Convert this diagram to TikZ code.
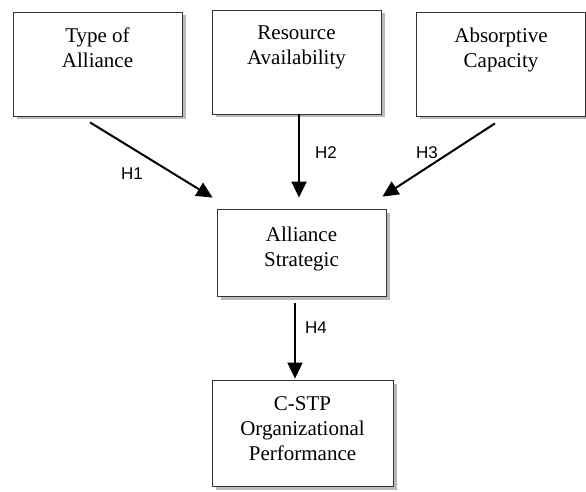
\documentclass[tikz,border=0pt]{standalone}
\usepackage{fontspec}
\setmainfont{Liberation Serif}
\newfontfamily\hfont{Liberation Sans}
\usetikzlibrary{calc,shadows,arrows.meta}
\tikzset{
	box/.style={draw=black!80, line width=0.8pt, fill=white, inner sep=0pt, minimum width=169pt, minimum height=104pt, drop shadow={shadow xshift=3.5pt, shadow yshift=-3.5pt, fill=black!50, opacity=0.55}},
	boxtext/.style={anchor=north, align=center, inner sep=0pt, font=\fontsize{21}{25}\selectfont},
	hyp/.style={line width=2pt, -{Triangle[length=16pt,width=15pt]}},
	hlab/.style={font=\hfont\fontsize{17}{19}\selectfont}
}

\begin{document}
\begin{tikzpicture}[x=1pt, y=-1pt]
			%%%%% START %%%%%
			\useasboundingbox (0, 0) rectangle (586, 492);
			
			% the three causes
			\node[box] (type) at (97.5, 64) {};
			\node[boxtext] (typetxt) at ($(type.north)+(0, 16)$) {Type of\\Alliance};
			
			\node[box] (res) at (296.5, 62) {};
			\node[boxtext] (restxt) at ($(res.north)+(0, 16)$) {Resource\\Availability};
			
			\node[box] (abs) at (501, 64) {};
			\node[boxtext] (abstxt) at ($(abs.north)+(0, 16)$) {Absorptive\\Capacity};
			
			% middle and outcome
			\node[box, minimum height=87pt] (strat) at (301.5, 252.5) {};
			\node[boxtext] (strattxt) at ($(strat.north)+(0, 18)$) {Alliance\\Strategic};
			
			\node[box, minimum width=181pt, minimum height=106pt] (perf) at (302.5, 433) {};
			\node[boxtext] (perftxt) at ($(perf.north)+(0, 17)$) {C-STP\\Organizational\\Performance};
			
			% hypotheses
			\draw[hyp] ($(type.south)+(-7.5, 6)$) -- ($(strat.north west)+(-4, -11)$);
			\draw[hyp] ($(res.south)+(2.5, 0)$) -- ($(res.south |- strat.north)+(2.5, -11)$);
			\draw[hyp] ($(abs.south)+(-6, 7)$) -- ($(strat.north east)+(-4, -12)$);
			\draw[hyp] ($(strat.south)+(-6.5, 7)$) -- ($(strat.south |- perf.north)+(-6.5, -1)$);
			
			\node[hlab] (h1) at (132, 174) {H1};
			\node[hlab] (h2) at (326, 153) {H2};
			\node[hlab] (h3) at (427, 153) {H3};
			\node[hlab] (h4) at (316, 328) {H4};
			
			%%%%% END %%%%%
\end{tikzpicture}
\end{document}
